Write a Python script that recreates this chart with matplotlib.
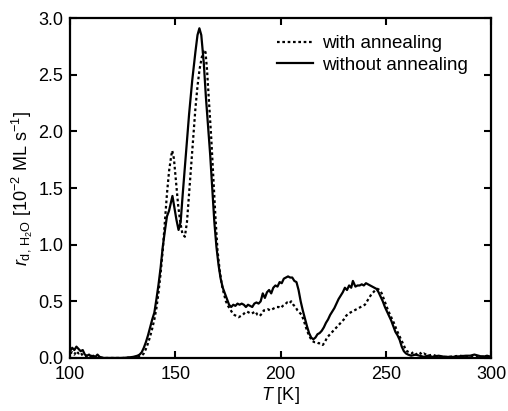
import numpy as np
import matplotlib
matplotlib.use('Agg')
import matplotlib.pyplot as plt

plt.rcParams['font.family'] = ['Liberation Sans', 'DejaVu Sans']
plt.rcParams['mathtext.fontset'] = 'custom'
plt.rcParams['mathtext.rm'] = 'Liberation Sans'
plt.rcParams['mathtext.it'] = 'Liberation Sans:italic'

# Temperature [K] and desorption rate
t_with = [100, 101, 102, 103, 104, 105, 106, 108, 110, 112, 116, 120, 125, 130, 132, 134, 135, 136, 137, 138,
          139, 140, 141, 142, 143, 144, 145, 146, 147, 148, 148.5, 149.3, 150.3, 151.3, 152.3, 153.3, 154.5,
          155.5, 156.5, 157.5, 158.5, 159.5, 160.5, 161.5, 162.5, 163.5, 164.3, 165, 166, 167, 168, 169, 170,
          171, 172, 173, 174, 175, 176, 177, 178, 179, 180, 181, 182, 183, 184, 185, 186, 187, 188, 189, 190,
          191, 192, 193, 194, 195, 196, 197, 198, 199, 200, 201, 202, 203, 204, 205, 206, 207, 208, 209, 210,
          211, 212, 213, 214, 215, 216, 217, 218, 219, 220, 221, 222, 223, 224, 225, 226, 227, 228, 229, 230,
          231, 232, 233, 234, 235, 236, 237, 238, 239, 240, 241, 242, 243, 244, 245, 246, 247, 248, 249, 250,
          251, 252, 253, 254, 255, 256, 257, 258, 259, 260, 261, 262, 263, 264, 265, 266, 267, 268, 270, 272,
          275, 280, 285, 290, 295, 300]
r_with = [0.04, 0.05, 0.03, 0.06, 0.04, 0.05, 0.02, 0.01, 0.02, 0.0, 0.0, 0.0, 0.0, 0.005, 0.01, 0.02, 0.04,
          0.08, 0.13, 0.19, 0.26, 0.34, 0.44, 0.58, 0.75, 0.95, 1.20, 1.45, 1.65, 1.78, 1.83, 1.76, 1.55, 1.35,
          1.20, 1.10, 1.07, 1.20, 1.45, 1.70, 1.95, 2.20, 2.40, 2.55, 2.65, 2.72, 2.70, 2.55, 2.25, 1.95, 1.60,
          1.25, 0.95, 0.78, 0.65, 0.57, 0.50, 0.46, 0.43, 0.40, 0.38, 0.37, 0.36, 0.37, 0.38, 0.40, 0.41, 0.40,
          0.39, 0.40, 0.41, 0.38, 0.37, 0.39, 0.42, 0.42, 0.43, 0.42, 0.43, 0.44, 0.45, 0.45, 0.44, 0.46, 0.47,
          0.49, 0.48, 0.50, 0.47, 0.45, 0.42, 0.40, 0.38, 0.33, 0.27, 0.22, 0.18, 0.15, 0.14, 0.14, 0.13, 0.13,
          0.115, 0.14, 0.18, 0.20, 0.22, 0.24, 0.26, 0.28, 0.30, 0.32, 0.34, 0.37, 0.39, 0.40, 0.41, 0.42, 0.43,
          0.44, 0.45, 0.46, 0.47, 0.50, 0.53, 0.56, 0.58, 0.60, 0.61, 0.60, 0.57, 0.52, 0.47, 0.42, 0.38, 0.34,
          0.30, 0.25, 0.21, 0.17, 0.13, 0.09, 0.06, 0.05, 0.04, 0.05, 0.03, 0.04, 0.05, 0.03, 0.04, 0.02, 0.03,
          0.01, 0.01, 0.02, 0.01, 0.015, 0.01]

t_without = [100, 101, 102, 103, 104, 105, 106, 107, 108, 109, 110, 111, 112, 113, 114, 116, 120, 125, 128, 130,
             132, 133, 134, 135, 136, 137, 138, 139, 140, 141, 142, 143, 144, 145, 146, 147, 148, 148.6, 149.5,
             150.5, 151.5, 152.5, 153.5, 155, 156.5, 158, 159.5, 160.5, 161.4, 162.3, 163.5, 164.5, 165.5,
             166.5, 167.5, 168.5, 169.5, 170.5, 171.5, 172.5, 173.5, 174.5, 175.5, 176.5, 177.5, 178.5, 179.5,
             180.5, 181.5, 182.5, 183.5, 184.5, 185.5, 186.5, 187.5, 188.5, 189.5, 190.5, 191.5, 192.5, 193.5,
             194.5, 195.5, 196.5, 197.5, 198.5, 199.5, 200.5, 201.5, 202.5, 203.5, 204.5, 205.5, 206.5, 207.5,
             208.5, 209.5, 210.5, 211.5, 212.5, 213.5, 214.5, 215.5, 216.5, 217.5, 218.5, 219.5, 220.5, 221.5,
             222.5, 223.5, 224.5, 225.5, 226.5, 227.5, 228.5, 229.5, 230.5, 231.5, 232.5, 233.5, 234.3, 235.5,
             236.5, 237.5, 238.5, 239.5, 240.5, 241.5, 242.5, 243.5, 244.5, 245.5, 246.5, 247.5, 248.5, 249.5,
             250.5, 251.5, 252.5, 253.5, 254.5, 255.5, 256.5, 257.5, 258.5, 259.5, 260.5, 262, 264, 266, 268,
             270, 272, 275, 278, 282, 285, 288, 290, 292, 294, 296, 298, 300]
r_without = [0.06, 0.09, 0.07, 0.10, 0.08, 0.06, 0.07, 0.03, 0.02, 0.03, 0.01, 0.02, 0.01, 0.03, 0.01, 0.0, 0.0,
             0.0, 0.005, 0.01, 0.02, 0.03, 0.05, 0.09, 0.14, 0.20, 0.27, 0.34, 0.40, 0.52, 0.65, 0.80, 0.98,
             1.12, 1.25, 1.30, 1.38, 1.43, 1.33, 1.22, 1.13, 1.20, 1.45, 1.80, 2.15, 2.45, 2.70, 2.85, 2.91,
             2.85, 2.60, 2.30, 2.05, 1.80, 1.50, 1.20, 0.98, 0.82, 0.70, 0.62, 0.57, 0.52, 0.47, 0.45, 0.47,
             0.46, 0.48, 0.47, 0.48, 0.47, 0.45, 0.47, 0.46, 0.45, 0.48, 0.49, 0.48, 0.50, 0.57, 0.53, 0.58,
             0.60, 0.57, 0.62, 0.64, 0.63, 0.67, 0.66, 0.70, 0.71, 0.72, 0.71, 0.71, 0.68, 0.67, 0.60, 0.50,
             0.42, 0.35, 0.28, 0.22, 0.18, 0.165, 0.18, 0.21, 0.22, 0.24, 0.27, 0.31, 0.34, 0.38, 0.41, 0.44,
             0.48, 0.52, 0.55, 0.58, 0.62, 0.60, 0.64, 0.62, 0.68, 0.63, 0.64, 0.64, 0.65, 0.64, 0.66, 0.65,
             0.64, 0.63, 0.62, 0.61, 0.58, 0.54, 0.50, 0.45, 0.41, 0.37, 0.33, 0.28, 0.23, 0.20, 0.16, 0.10,
             0.06, 0.04, 0.03, 0.02, 0.03, 0.02, 0.01, 0.02, 0.01, 0.02, 0.01, 0.01, 0.015, 0.02, 0.02, 0.03,
             0.02, 0.01, 0.02, 0.01]

fig = plt.figure(figsize=(5.08, 4.11), dpi=100)
ax = fig.add_axes([0.138, 0.129, 0.829, 0.827])

ax.plot(t_with, r_with, color='black', linestyle=(0, (1.2, 1.2)), linewidth=1.6, label='with annealing')
ax.plot(t_without, r_without, color='black', linestyle='-', linewidth=1.6, label='without annealing')

ax.set_xlim(100, 300)
ax.set_ylim(0, 3.0)
ax.set_xticks([100, 150, 200, 250, 300])
ax.set_yticks(np.arange(0, 3.01, 0.5))
ax.set_yticklabels(['%.1f' % v for v in np.arange(0, 3.01, 0.5)])
ax.tick_params(direction='in', top=True, right=True, length=5, width=1.5, labelsize=13)
ax.tick_params(axis='x', pad=6)
ax.tick_params(axis='y', pad=5)
for s in ax.spines.values():
    s.set_linewidth(1.6)

ax.set_xlabel('$T$ [K]', fontsize=13, labelpad=1)
ax.set_ylabel(r'$r_{\mathrm{d,\,H_2O}}$ [10$^{-2}$ ML s$^{-1}$]', fontsize=13, labelpad=2)

ax.legend(loc='upper right', frameon=False, fontsize=13.5, handlelength=1.9, handletextpad=0.5,
          labelspacing=0.25, borderaxespad=0.5, bbox_to_anchor=(0.985, 1.0))

fig.savefig('out.png', dpi=100)
